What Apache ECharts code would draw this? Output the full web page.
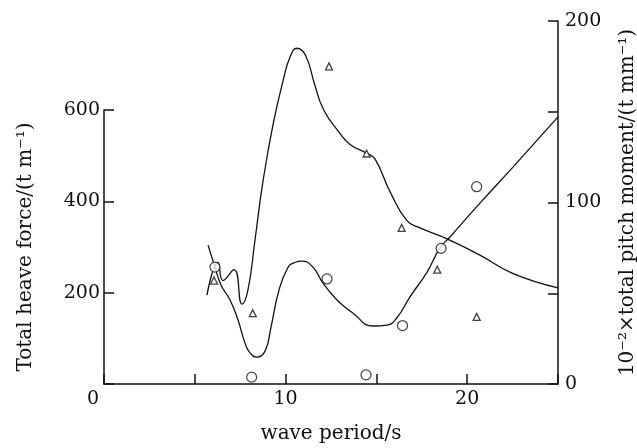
<!DOCTYPE html>
<html>
<head>
<meta charset="utf-8">
<script src="https://cdn.jsdelivr.net/npm/echarts@6/dist/echarts.min.js"></script>
<style>
  html, body { margin: 0; padding: 0; background: #fff; }
  #chart { width: 637px; height: 448px; }
</style>
</head>
<body>
<div id="chart"></div>
<script>
// wave period (s)
const xTicks = [0, 5, 10, 15, 20, 25];

// heave force curve (t/m) and measured points (circles)
const heavePeriod = [5.73, 6.11, 6.44, 6.94, 7.38, 7.76, 8.04, 8.42, 8.87, 9.2, 9.6, 10.1, 10.5, 10.9, 11.5, 12.06, 12.83, 13.71, 14.81, 15.58, 16.13, 16.85, 17.79, 18.5, 19.05, 20.7, 22.52, 25.0];
const heaveForce  = [304, 256, 217, 184, 140, 90, 68, 59, 72, 125, 200, 253, 266, 269, 256, 221, 184, 155, 127, 129, 145, 191, 245, 298, 322, 396, 475, 585];
const circlePeriod = [6.11, 8.13, 12.28, 14.43, 16.44, 18.56, 20.52];
const circleForce  = [256, 15, 230, 20, 128, 297, 432];

// pitch moment curve (10^-2 t m/m) and measured points (triangles)
const pitchPeriod = [5.67, 6.28, 6.55, 7.16, 7.6, 7.93, 8.31, 8.76, 9.31, 9.86, 10.24, 10.63, 11.1, 11.6, 12.1, 13.0, 13.55, 14.48, 14.92, 15.75, 16.68, 17.4, 18.89, 20.7, 22.5, 25.0];
const pitchMoment = [49, 67, 57, 63, 44, 52, 79, 112, 143, 167, 180, 185, 181, 165, 151, 138, 132, 127, 124, 106, 90, 86, 80, 71, 61, 53];
const triPeriod = [6.06, 8.19, 12.39, 14.46, 16.39, 18.35, 20.52];
const triMoment = [57, 39, 175, 127, 86, 63, 37];

const zip = (a, b) => a.map((v, i) => [v, b[i]]);

const font = 'DejaVu Serif, Liberation Serif, serif';
const black = '#111';

const chart = echarts.init(document.getElementById('chart'));
chart.setOption({
  animation: false,
  backgroundColor: '#fff',
  textStyle: { fontFamily: font, color: black },
  grid: [
    { left: 104, right: 79, top: 110, bottom: 64, outerBoundsMode: 'none' },
    { left: 104, right: 79, top: 21, bottom: 64, outerBoundsMode: 'none' }
  ],
  xAxis: [
    {
      gridIndex: 0, type: 'value', min: xTicks[0], max: xTicks[xTicks.length - 1], interval: 5,
      axisLine: { onZero: false, lineStyle: { color: black, width: 1.5 } },
      axisTick: { inside: true, length: 10, lineStyle: { color: black, width: 1.5 } },
      splitLine: { show: false },
      axisLabel: {
        color: black, fontFamily: font, fontSize: 19, margin: 6,
        formatter: v => v === 0 ? '{z|0}' : (v % 10 === 0 && v < 25 ? String(v) : ''),
        rich: { z: { fontFamily: font, fontSize: 19, color: black, padding: [0, 22, 0, 0] } }
      },
      name: 'wave period/s', nameLocation: 'middle', nameGap: 40,
      nameTextStyle: { fontFamily: font, fontSize: 20, color: black }
    },
    { gridIndex: 1, type: 'value', min: 0, max: 25, show: false }
  ],
  yAxis: [
    {
      gridIndex: 0, type: 'value', position: 'left', min: 0, max: 600, interval: 200,
      axisLine: { show: true, onZero: false, lineStyle: { color: black, width: 1.5 } },
      axisTick: { show: true, inside: true, length: 10, lineStyle: { color: black, width: 1.5 } },
      splitLine: { show: false },
      axisLabel: {
        color: black, fontFamily: font, fontSize: 19, margin: 4,
        formatter: v => v === 0 ? '' : String(v)
      },
      name: 'Total heave force/(t m⁻¹)', nameLocation: 'middle', nameRotate: 90, nameGap: 68,
      nameTextStyle: { fontFamily: font, fontSize: 20, color: black }
    },
    {
      gridIndex: 1, type: 'value', position: 'right', min: 0, max: 200, interval: 50,
      axisLine: { show: true, onZero: false, lineStyle: { color: black, width: 1.5 } },
      axisTick: { show: true, inside: true, length: 10, lineStyle: { color: black, width: 1.5 } },
      splitLine: { show: false },
      axisLabel: {
        color: black, fontFamily: font, fontSize: 19, margin: 7,
        formatter: v => v % 100 === 0 ? String(v) : ''
      },
      name: '10⁻²×total pitch moment/(t mm⁻¹)', nameLocation: 'middle', nameRotate: 90, nameGap: 60,
      nameTextStyle: { fontFamily: font, fontSize: 20, color: black }
    }
  ],
  series: [
    {
      name: 'heave', type: 'line', xAxisIndex: 0, yAxisIndex: 0,
      data: zip(heavePeriod, heaveForce), smooth: 0.5,
      showSymbol: false, lineStyle: { color: black, width: 1.3 }, z: 3
    },
    {
      name: 'pitch', type: 'line', xAxisIndex: 1, yAxisIndex: 1,
      data: zip(pitchPeriod, pitchMoment), smooth: 0.5,
      showSymbol: false, lineStyle: { color: black, width: 1.3 }, z: 3
    },
    {
      name: 'heave points', type: 'scatter', xAxisIndex: 0, yAxisIndex: 0,
      data: zip(circlePeriod, circleForce), symbol: 'circle', symbolSize: 10,
      itemStyle: { color: '#fff', borderColor: black, borderWidth: 1.2 }, z: 4
    },
    {
      name: 'pitch points', type: 'scatter', xAxisIndex: 1, yAxisIndex: 1,
      data: zip(triPeriod, triMoment), symbol: 'triangle', symbolSize: 7,
      itemStyle: { color: '#fff', borderColor: black, borderWidth: 1.3 }, z: 4
    }
  ]
});
</script>
</body>
</html>
